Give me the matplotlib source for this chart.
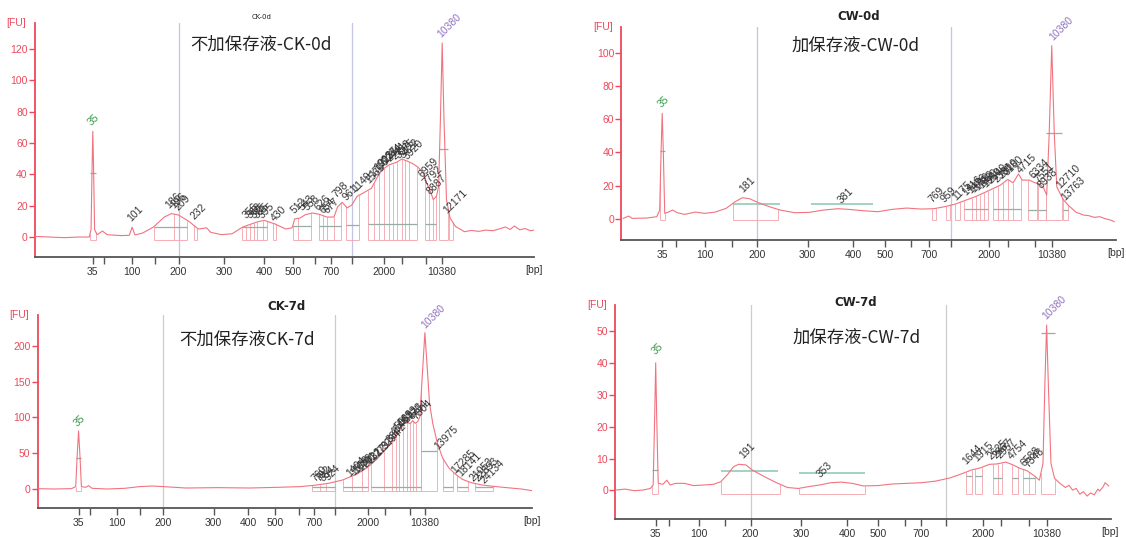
import matplotlib.pyplot as plt
import numpy as np

plt.rcParams['font.family'] = ['Liberation Sans', 'DejaVu Sans']

# ladder sizes (bp) printed under each trace
ladder = [35, 50, 100, 150, 200, 300, 400, 500, 600, 700, 1000, 2000, 3000, 7000, 10380]
ladder_shown = [35, 100, 200, 300, 400, 500, 700, 2000, 10380]

# ---------------- CK-0d ----------------
ck0_x = [97, 140, 180, 220, 250, 255, 258, 260, 262, 265, 272, 287, 300, 340, 362, 370, 378,
         400, 430, 460, 480, 500, 530, 555, 570, 578, 590, 620, 650, 680, 720, 740, 770, 800,
         818, 825, 840, 855, 875, 895, 915, 935, 945, 958, 972, 985, 1000, 1020, 1040, 1055,
         1070, 1090, 1110, 1125, 1140, 1155, 1170, 1185, 1195, 1205, 1213, 1222, 1228, 1233,
         1238, 1243, 1250, 1260, 1275, 1290, 1300, 1320, 1340, 1360, 1380, 1400, 1415, 1428,
         1440, 1455, 1470, 1485, 1495]
ck0_fu = [0.6, 0.2, -0.2, 0.2, 0.2, 4.9, 45.2, 67.4, 45.2, 4.9, 1.7, 4.0, 1.7, 1.1, 1.3, 6.4, 1.5,
          2.8, 6.6, 12.9, 15.1, 14.2, 10.0, 5.3, 5.7, 6.1, 3.2, 1.7, 2.3, 6.6, 9.8, 10.8, 8.5, 5.3,
          6.1, 11.7, 12.3, 14.4, 15.5, 14.6, 12.9, 12.9, 19.3, 22.3, 18.7, 20.6, 26.1, 28.6, 31.2, 37.7,
          43.0, 46.2, 47.7, 49.8, 48.5, 46.9, 44.7, 40.9, 34.1, 29.3, 24.0, 26.1, 32.4, 74.8,
          123.6, 74.8, 24.0, 12.3, 7.0, 5.0, 3.6, 4.4, 3.8, 4.6, 4.2, 5.5, 6.6, 5.0,
          7.2, 4.8, 5.6, 4.2, 4.6]
ck0_ticks = [260, 292, 370, 435, 500, 627, 740, 820, 883, 926, 985, 1075, 1125, 1192, 1238]
ck0_peaks = [(262, 70, '35'), (372, 9, '101'), (478, 17, '186'), (492, 17, '196'), (505, 16, '209'),
             (548, 10, '232'), (695, 11, '356'), (706, 11, '368'), (716, 11, '375'), (726, 11, '385'),
             (738, 11, '395'), (772, 9, '430'), (828, 14, '512'), (852, 16, '543'), (866, 16, '558'),
             (895, 16, '626'), (910, 14, '654'), (922, 14, '677'), (945, 24, '798'), (975, 22, '961'),
             (1000, 28, '1149'), (1038, 33, '1565'), (1050, 37, '1736'), (1062, 41, '1912'),
             (1074, 44, '2037'), (1086, 46, '2234'), (1098, 47, '2441'), (1110, 48, '2758'),
             (1122, 49, '3075'), (1134, 49, '3422'), (1146, 48, '3920'), (1188, 37, '6959'),
             (1198, 32, '7792'), (1208, 26, '8887'), (1240, 126, '10380'), (1256, 14, '12171')]
ck0_boxes = [([252, 268], 41), ([430, 488, 500, 525], 6.4), ([543, 551], None),
             ([677, 690, 700, 710, 720, 735, 748], 6.4), ([763, 773], None), ([820, 835, 870], 7.5),
             ([893, 905, 915, 935, 955], 7.5), ([968, 1005], 8),
             ([1030, 1048, 1062, 1075, 1088, 1100, 1112, 1125, 1135, 1145, 1168], 8.5),
             ([1190, 1200, 1212, 1222], 8.5), ([1228, 1255], 56), ([1258, 1268], None)]
ck0_smear = []

# ---------------- CW-0d ----------------
cw0_x = [175, 190, 200, 240, 268, 276, 280, 283, 286, 290, 300, 312, 325, 345, 375, 400, 430, 460,
         485, 505, 525, 550, 580, 610, 650, 690, 730, 770, 800, 840, 880, 920, 960, 1000, 1035,
         1065, 1095, 1125, 1150, 1175, 1200, 1220, 1240, 1255, 1270, 1280, 1300, 1315, 1330, 1340,
         1348, 1355, 1362, 1369, 1376, 1385, 1395, 1410, 1430, 1450, 1465, 1480, 1495, 1510, 1525,
         1535]
cw0_fu = [0.4, 1.8, 0.4, 0.6, 1.4, 5.4, 41.5, 63.5, 41.5, 3.4, 4.2, 5.4, 3.8, 2.8, 4.2, 3.4, 4.2, 6.4,
          10.4, 12.8, 12.2, 9.8, 7.4, 5.4, 3.8, 4.0, 5.4, 6.2, 5.8, 5.0, 4.4, 5.8, 6.6, 6.0, 6.2,
          7.4, 9.0, 11.4, 13.4, 15.8, 18.4, 20.4, 23.8, 21.8, 27.1, 23.4, 23.4, 21.8, 21.0, 18.4,
          14.4, 51.5, 104.2, 51.5, 19.4, 15.4, 11.4, 7.8, 4.0, 2.4, 2.0, 1.0, 1.4, 0.2, -0.6,
          -1.6]
cw0_ticks = [283, 320, 402, 476, 545, 686, 812, 900, 972, 1022, 1083, 1188, 1240, 1315, 1362]
cw0_peaks = [(285, 66, '35'), (512, 15, '181'), (785, 8, '381'), (1035, 9, '769'), (1070, 9, '959'),
             (1100, 10, '1175'), (1130, 13, '1416'), (1142, 14, '1476'), (1152, 15, '1610'),
             (1162, 16, '1722'), (1172, 17, '1839'), (1185, 18, '1950'), (1200, 20, '2140'),
             (1215, 21, '2380'), (1230, 23, '2810'), (1245, 25, '3180'), (1280, 26, '4715'),
             (1316, 23, '6334'), (1328, 21, '7551'), (1338, 17, '8938'), (1370, 106, '10380'),
             (1390, 17, '12710'), (1402, 10, '13763')]
cw0_boxes = [([278, 290], 41), ([478, 605], None), ([1030, 1042], None), ([1068, 1080], None),
             ([1095, 1108], None), ([1118, 1140, 1152, 1163, 1175, 1186], 6),
             ([1198, 1212, 1228, 1240, 1255, 1278], 6), ([1295, 1320], 5.5), ([1325, 1345], 5.5),
             ([1345, 1390], 51.5), ([1393, 1408], 5.5)]
cw0_smear = [(478, 610, 8.8), (695, 868, 8.8)]

# ---------------- CK-7d ----------------
ck7_x = [105, 150, 200, 212, 216, 220, 224, 228, 240, 248, 258, 300, 350, 390, 425, 460, 520, 610,
         700, 780, 840, 880, 920, 960, 1000, 1030, 1055, 1080, 1100, 1118, 1130, 1140, 1148, 1156,
         1163, 1170, 1176, 1182, 1190, 1197, 1203, 1212, 1225, 1240, 1258, 1275, 1295, 1320, 1350,
         1390, 1430, 1460, 1490]
ck7_fu = [0, -0.5, 0, 2.8, 45, 81, 45, 2.8, 1.9, 4.2, 0.5, -0.5, 0.5, 2.8, 3.7, 2.8, 0.9, 1.4,
          0.9, 1.9, 2.8, 4.7, 7.5, 12.2, 20.6, 30.0, 41.2, 55.2, 69.3, 82.4, 90.8, 94.1, 90.8, 95.5,
          91.8, 94.1, 101.1, 152.6, 219.1, 166.7, 119.9, 91.8, 63.7, 42.6, 28.6, 20.6, 13.1, 8.4, 5.1,
          2.8, 0.9, -0.5, -2.8]
ck7_ticks = [220, 252, 328, 392, 456, 598, 695, 770, 838, 880, 938, 1032, 1078, 1148, 1190]
ck7_peaks = [(222, 85, '35'), (888, 7, '760'), (898, 7, '792'), (910, 8, '854'), (925, 9, '924'),
             (985, 14, '1404'), (995, 16, '1513'), (1005, 19, '1682'), (1015, 22, '1791'),
             (1030, 27, '2022'), (1045, 33, '2312'), (1065, 42, '2797'), (1085, 53, '3294'),
             (1098, 62, '3842'), (1110, 72, '4540'), (1120, 80, '5063'), (1132, 86, '5693'),
             (1145, 90, '6123'), (1158, 94, '6754'), (1170, 95, '7804'), (1195, 222, '10380'),
             (1232, 52, '13975'), (1280, 18, '17285'), (1295, 15, '18141'), (1330, 8, '21053'),
             (1345, 7, '22893'), (1362, 5, '24134')]
ck7_boxes = [([212, 228], 42.6), ([875, 895, 912, 938], 3), ([960, 985, 1015, 1030], 3),
             ([1040, 1075, 1098, 1108, 1118, 1128, 1140, 1148, 1158, 1165, 1178], 3),
             ([1180, 1225], 52.9), ([1240, 1268], 3), ([1280, 1310], 3), ([1330, 1380], 3)]
ck7_smear = []

# ---------------- CW-7d ----------------
cw7_x = [155, 180, 205, 230, 250, 258, 262, 265, 268, 272, 285, 296, 305, 320, 345, 370, 400, 425,
         445, 465, 480, 495, 515, 530, 550, 575, 600, 630, 660, 690, 720, 750, 780, 810, 840, 880,
         920, 960, 1000, 1040, 1080, 1110, 1140, 1165, 1190, 1210, 1235, 1255, 1275, 1295, 1315,
         1328, 1338, 1343, 1348, 1353, 1360, 1370, 1385, 1400, 1410, 1420, 1430, 1440, 1450, 1460,
         1470, 1480, 1490, 1495, 1505, 1510, 1520]
cw7_fu = [0.1, 0.4, -0.1, 0.1, 0.6, 1.7, 22.1, 40.1, 22.1, 2.2, 1.9, 3.2, 1.7, 2.2, 2.2, 1.5, 1.7, 1.9,
          2.7, 5.1, 7.4, 8.2, 8.0, 6.6, 5.3, 3.8, 2.4, 0.9, 0.6, 1.2, 1.7, 2.4, 2.6, 2.2, 1.4, 1.5,
          2.0, 2.2, 2.4, 2.9, 3.9, 5.1, 6.4, 7.1, 8.2, 8.3, 8.9, 8.0, 6.9, 6.1, 4.5,
          3.2, 8.5, 32.6, 52.0, 32.6, 8.5, 3.8, 2.2, 0.9, 1.6, 0.1, 0.6, -1.2, -0.4, -1.8,
          -0.8, -1.4, 0.4, -0.2, 1.2, 2.4, 1.4]
cw7_ticks = [265, 302, 385, 458, 528, 668, 795, 882, 955, 1000, 1068, 1172, 1222, 1300, 1348]
cw7_peaks = [(268, 42, '35'), (510, 9.5, '191'), (725, 3.5, '353'), (1130, 7.5, '1644'),
             (1160, 8.5, '1915'), (1200, 9, '2625'), (1213, 9.3, '2867'), (1224, 9.5, '2957'),
             (1255, 9, '4754'), (1290, 7, '6588'), (1302, 6.5, '7348'), (1350, 53, '10380')]
cw7_boxes = [([255, 272], 6.4), ([447, 610], None), ([662, 846], None), ([1125, 1140], 4.5),
             ([1150, 1168], 4.5), ([1200, 1213, 1225], 4), ([1252, 1268], 4),
             ([1283, 1298, 1315], 4), ([1332, 1372], 49.4)]
cw7_smear = [(447, 603, 6.1), (662, 846, 5.6)]

W, H = 1126, 537
fig = plt.figure(figsize=(W / 100, H / 100), dpi=100)

panels = [
    dict(rect=(34.6, 23, 534, 257), xlim=(97, 1495), ylim=(-12.5, 136.3), yt=range(0, 121, 20),
         x=ck0_x, y=ck0_fu, ticks=ck0_ticks, peaks=ck0_peaks, boxes=ck0_boxes, smear=ck0_smear,
         title='CK-0d', tsize=5, tbold=False, tpos=(262, 17), note='不加保存液-CK-0d', npos=(261, 45),
         base=-1.5, vcol='#c4c4e4'),
    dict(rect=(621.4, 26.7, 1116, 240), xlim=(170, 1540), ylim=(-12.6, 115.6), yt=range(0, 101, 20),
         x=cw0_x, y=cw0_fu, ticks=cw0_ticks, peaks=cw0_peaks, boxes=cw0_boxes, smear=cw0_smear,
         title='CW-0d', tsize=8.5, tbold=True, tpos=(859, 17), note='加保存液-CW-0d', npos=(856, 46),
         base=-0.5, vcol='#c4c4e4'),
    dict(rect=(37.5, 315, 532, 508.3), xlim=(105, 1490), ylim=(-27.6, 243.9), yt=range(0, 201, 50),
         x=ck7_x, y=ck7_fu, ticks=ck7_ticks, peaks=ck7_peaks, boxes=ck7_boxes, smear=ck7_smear,
         title='CK-7d', tsize=8.5, tbold=True, tpos=(287, 307), note='不加保存液CK-7d', npos=(247, 340),
         base=-3, vcol='#cccccc'),
    dict(rect=(614.9, 305, 1110.5, 519.3), xlim=(152, 1525), ylim=(-9.1, 58.3), yt=range(0, 51, 10),
         x=cw7_x, y=cw7_fu, ticks=cw7_ticks, peaks=cw7_peaks, boxes=cw7_boxes, smear=cw7_smear,
         title='CW-7d', tsize=8.5, tbold=True, tpos=(856, 303), note='加保存液-CW-7d', npos=(857, 338),
         base=-1, vcol='#cccccc'),
]

red = '#ec4a5c'
trace_col = '#f27380'
box_col = '#f3a3ab'
grey_col = '#9aaca6'
teal_col = '#8cc4b4'
label_col = '#333333'

for p in panels:
    l, t, r, b = p['rect']
    ax = fig.add_axes([l / W, 1 - b / H, (r - l) / W, (b - t) / H])
    ax.set_xlim(*p['xlim'])
    ax.set_ylim(*p['ylim'])
    for s in ['top', 'right']:
        ax.spines[s].set_visible(False)
    ax.spines['left'].set_color(red)
    ax.spines['left'].set_linewidth(1.3)
    ax.spines['bottom'].set_color('#555555')
    ax.spines['bottom'].set_linewidth(1.3)

    ax.set_yticks(list(p['yt']))
    ax.tick_params(axis='y', colors=red, labelsize=7.5, length=4, width=1, pad=1)
    ax.set_xticks(p['ticks'])
    ax.set_xticklabels([str(v) if v in ladder_shown else '' for v in ladder])
    ax.tick_params(axis='x', colors='#555555', labelcolor='#333333', labelsize=7.5, length=5,
                   width=1, pad=2)

    # region markers at 200 bp and 1000 bp
    for size in (200, 1000):
        ax.axvline(p['ticks'][ladder.index(size)], color=p['vcol'], lw=0.9, zorder=1)

    xs = np.array(p['x'])
    ys = np.array(p['y'])
    base = p['base']
    for edges, grey in p['boxes']:
        tops = np.interp(edges, xs, ys)
        ax.vlines(edges, base, tops, color=box_col, lw=0.6, zorder=2)
        ax.hlines(base, edges[0], edges[-1], color=box_col, lw=0.6, zorder=2)
        if grey is not None:
            ax.hlines(grey, edges[0], edges[-1], color=grey_col, lw=0.9, zorder=3)
    for x0, x1, lev in p['smear']:
        ax.hlines(lev, x0, x1, color=teal_col, lw=1.1, zorder=3)

    ax.plot(xs, ys, color=trace_col, lw=0.8, zorder=4)

    for px, fu, txt in p['peaks']:
        if txt == '35':
            c = '#3a9a4a'
        elif txt == '10380':
            c = '#9070c0'
        else:
            c = label_col
        ax.text(px, fu, txt, rotation=45, rotation_mode='anchor', ha='left', va='bottom',
                fontsize=7.5, color=c, clip_on=False, zorder=5)

    ax.annotate('[FU]', xy=(0, 1), xycoords='axes fraction', xytext=(-18, 0),
                textcoords='offset pixels', ha='center', va='center', fontsize=7.5, color=red)
    ax.annotate('[bp]', xy=(1, 0), xycoords='axes fraction', xytext=(0, -13),
                textcoords='offset pixels', ha='center', va='center', fontsize=7.5, color='#333333')

    fig.text(p['tpos'][0] / W, 1 - p['tpos'][1] / H, p['title'], ha='center', va='center',
             fontsize=p['tsize'], fontweight='bold' if p['tbold'] else 'normal', color='#222222',
             family=['DejaVu Sans'])
    fig.text(p['npos'][0] / W, 1 - p['npos'][1] / H, p['note'], ha='center', va='center',
             fontsize=12.5, color='#222222', family=['Noto Sans CJK SC', 'DejaVu Sans'])

fig.savefig('out.png', dpi=100)
